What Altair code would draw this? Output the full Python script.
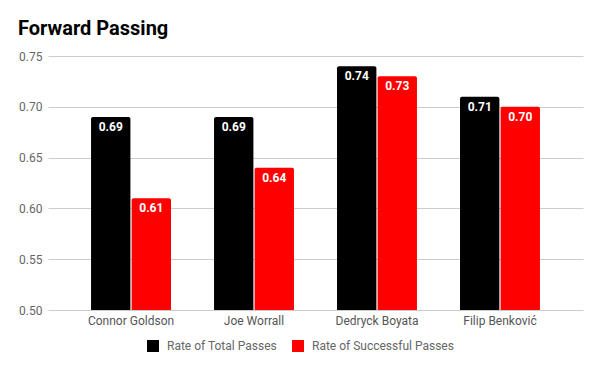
import altair as alt
import pandas as pd

players = ["Connor Goldson", "Joe Worrall", "Dedryck Boyata", "Filip Benković"]
total_rate = [0.69, 0.69, 0.74, 0.71]
successful_rate = [0.61, 0.64, 0.73, 0.70]
series = ["Rate of Total Passes", "Rate of Successful Passes"]
colors = ["#000000", "#ff0000"]
y_ticks = [0.50, 0.55, 0.60, 0.65, 0.70, 0.75]
y_min = 0.50

rows = []
for p, t, s in zip(players, total_rate, successful_rate):
    rows.append({"player": p, "series": series[0], "value": t})
    rows.append({"player": p, "series": series[1], "value": s})
df = pd.DataFrame(rows)

FONT = "Roboto"

x_enc = alt.X("player:N", sort=players, title=None,
              scale=alt.Scale(paddingInner=0.35, paddingOuter=0.35),
              axis=alt.Axis(labelAngle=0, ticks=False, domain=False, grid=False, labelPadding=5,
                            labelColor="#555555", labelFontSize=12, labelFont=FONT))
xo_enc = alt.XOffset("series:N", sort=series, scale=alt.Scale(paddingInner=0.03, paddingOuter=0))
y_enc = alt.Y("value:Q", title=None,
              scale=alt.Scale(domain=[0.5, 0.75], nice=False, zero=False),
              axis=alt.Axis(values=y_ticks, format=".2f", ticks=False, domain=False, grid=True,
                            labelPadding=6, labelColor="#666666", labelFontSize=12,
                            labelFont=FONT, gridColor="#cccccc"))

bars = alt.Chart(df).mark_bar(cornerRadiusTopLeft=2, cornerRadiusTopRight=2).encode(
    x=x_enc,
    xOffset=xo_enc,
    y=y_enc,
    y2=alt.datum(y_min),
    color=alt.Color("series:N", sort=series,
                    scale=alt.Scale(domain=series, range=colors),
                    legend=alt.Legend(title=None, orient="none", direction="horizontal",
                                      legendX=99, legendY=284, symbolType="square",
                                      symbolSize=144, symbolStrokeWidth=0, labelOffset=8,
                                      columnPadding=15, padding=0,
                                      labelColor="#666666", labelFontSize=12, labelFont=FONT)),
)

labels = alt.Chart(df).mark_text(color="white", fontWeight="bold", fontSize=12, font=FONT,
                                 baseline="alphabetic", dy=14).encode(
    x=alt.X("player:N", sort=players),
    xOffset=alt.XOffset("series:N", sort=series),
    y=alt.Y("value:Q"),
    text=alt.Text("value:Q", format=".2f"),
)

chart = alt.layer(bars, labels).properties(
    width=535,
    height=254,
    padding={"left": 40, "top": 48, "right": 2, "bottom": 45},
    autosize=alt.AutoSizeParams(type="none"),
    title=alt.Title("Forward Passing", anchor="start", frame="group", dx=-30, dy=25,
                    fontSize=20, fontWeight="bold", font=FONT, color="#000000",
                    baseline="alphabetic", offset=20),
).configure_view(stroke=None)

chart.save("out.html", embed_options={"renderer": "svg", "actions": False})
